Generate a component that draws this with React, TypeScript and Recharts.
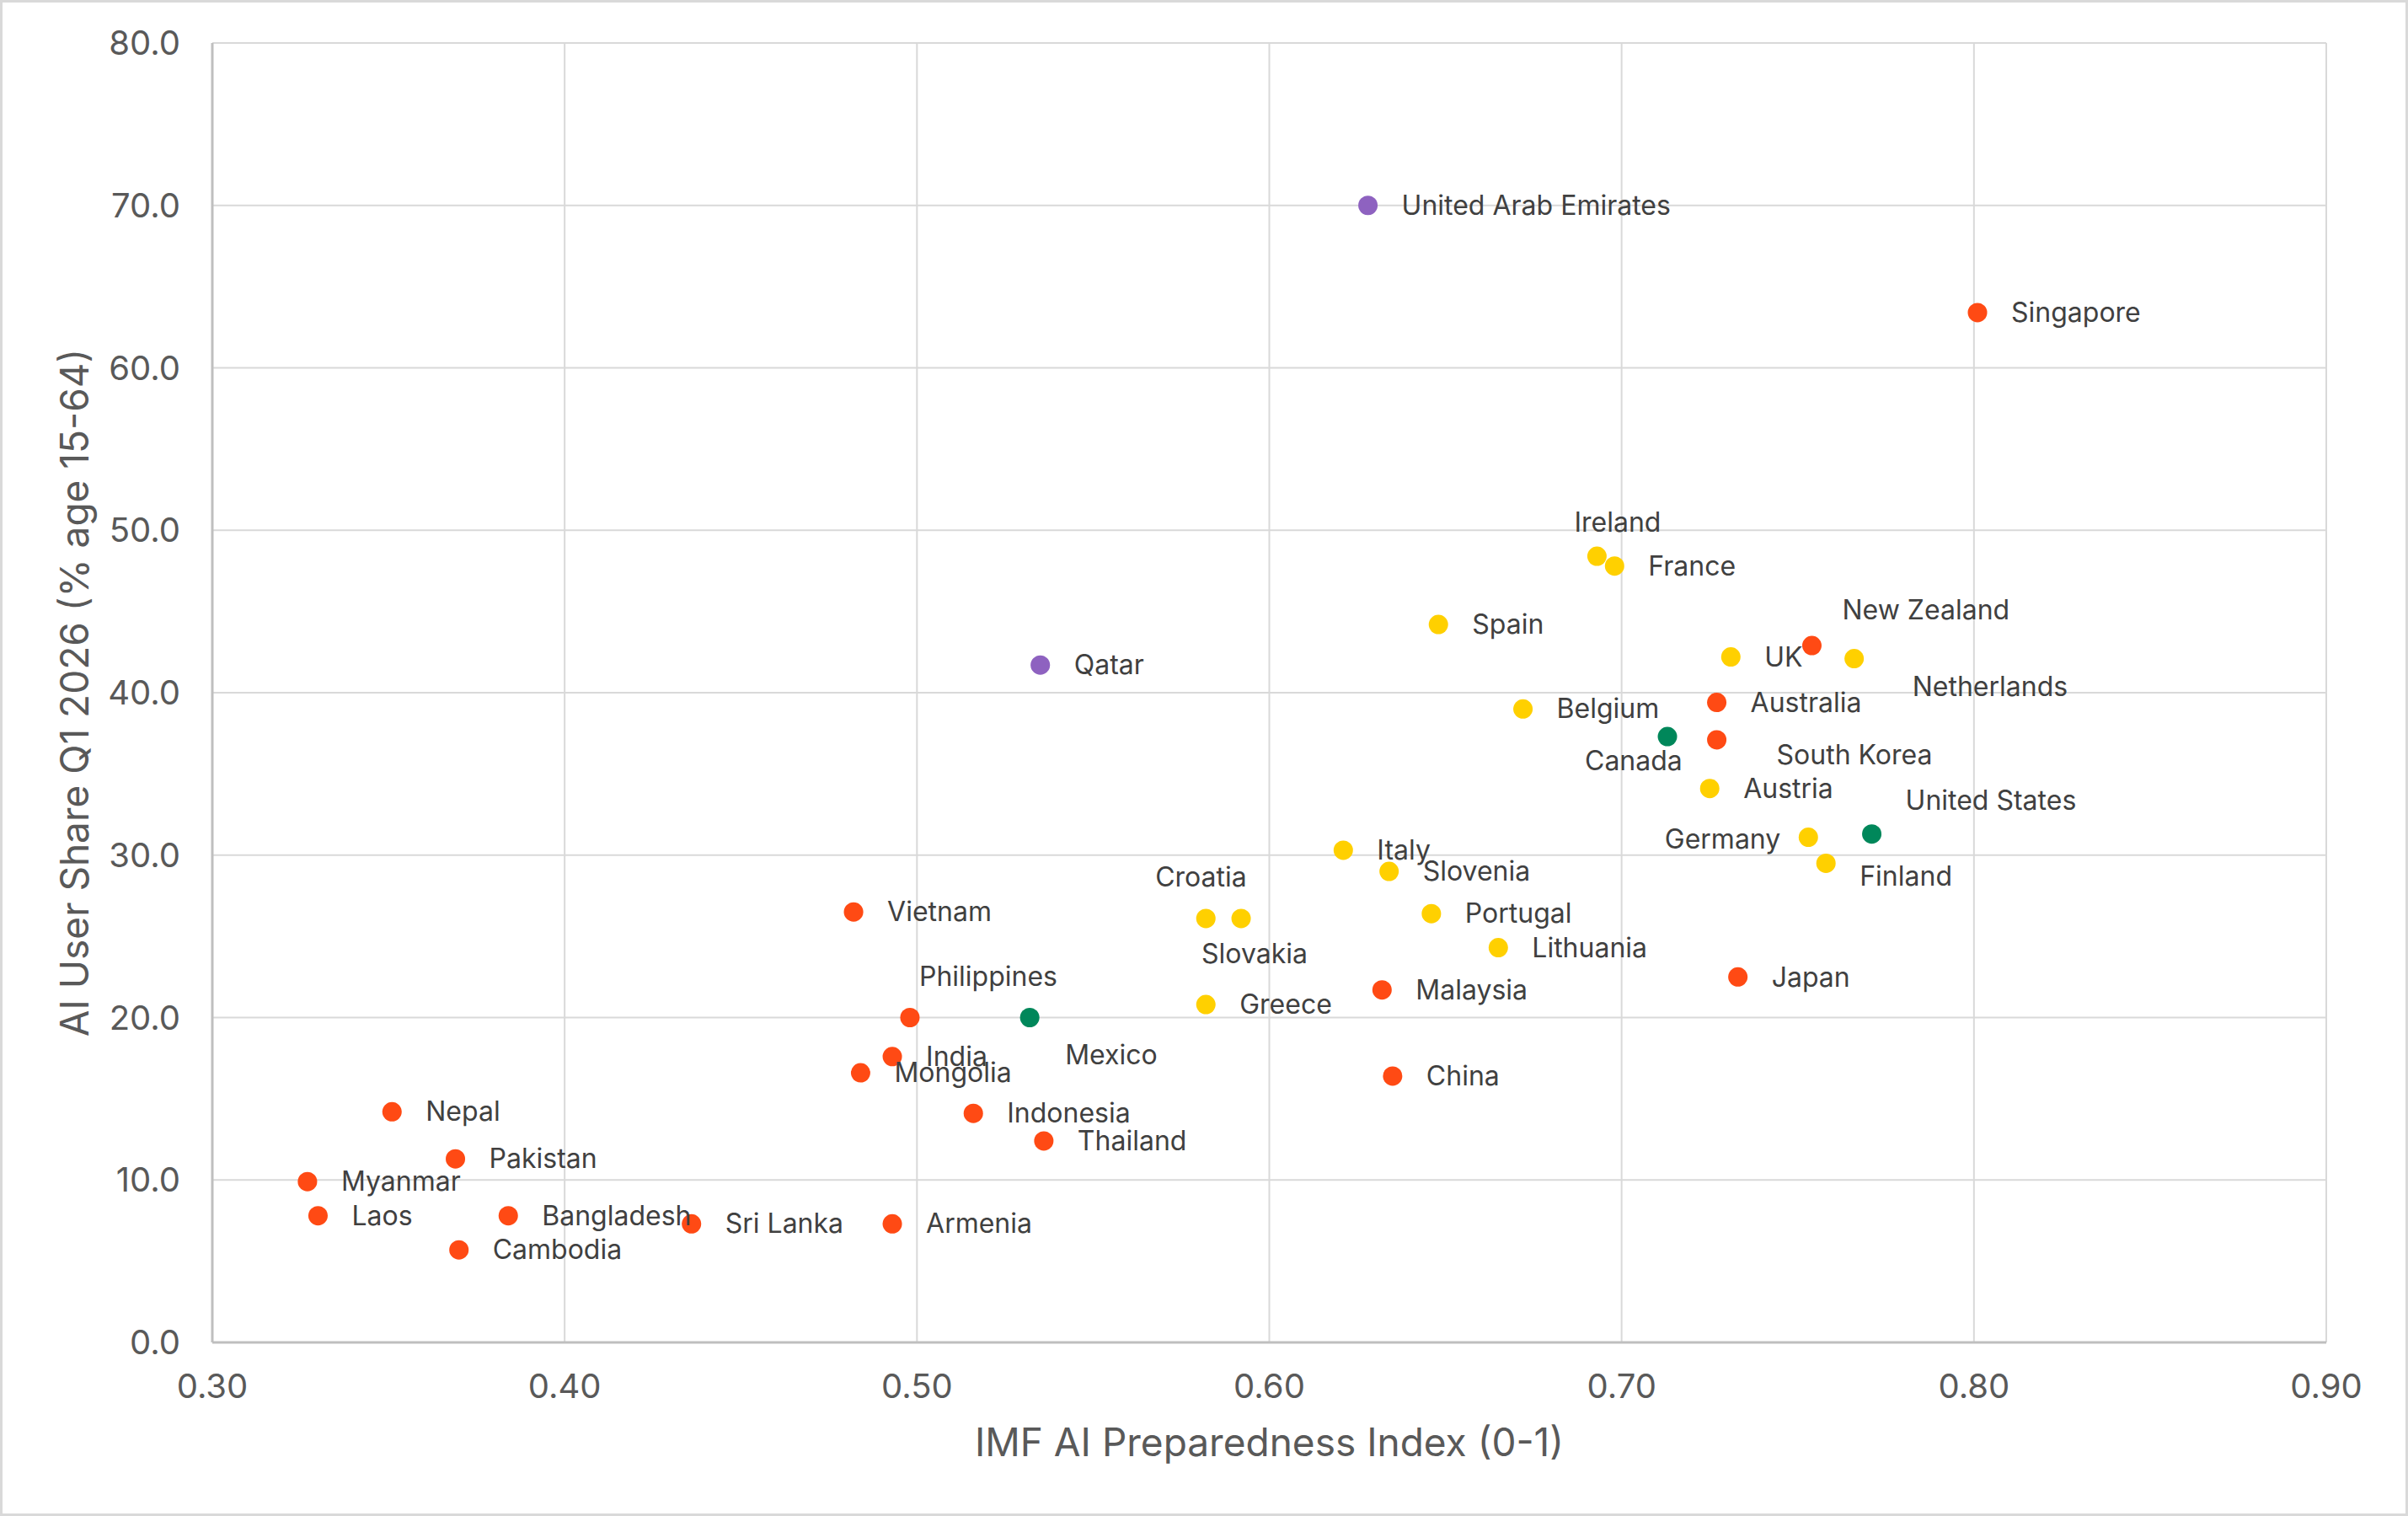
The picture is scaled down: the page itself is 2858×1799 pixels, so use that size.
import React from 'react';
import {
  ScatterChart,
  Scatter,
  XAxis,
  YAxis,
  CartesianGrid
} from 'recharts';

// values
const COUNTRIES = [
  'United Arab Emirates', 'Qatar',
  'Singapore', 'New Zealand', 'Australia', 'South Korea', 'Japan', 'Malaysia', 'China',
  'Vietnam', 'Philippines', 'India', 'Mongolia', 'Indonesia', 'Thailand', 'Armenia',
  'Sri Lanka', 'Bangladesh', 'Cambodia', 'Laos', 'Myanmar', 'Pakistan', 'Nepal',
  'Canada', 'United States', 'Mexico',
  'Ireland', 'France', 'Spain', 'UK', 'Netherlands', 'Belgium', 'Austria', 'Germany',
  'Finland', 'Italy', 'Slovenia', 'Portugal', 'Lithuania', 'Croatia', 'Slovakia', 'Greece'
];

const PREPAREDNESS = [
  0.628, 0.535,
  0.801, 0.754, 0.727, 0.727, 0.733, 0.632, 0.635,
  0.482, 0.498, 0.493, 0.484, 0.516, 0.536, 0.493,
  0.436, 0.384, 0.370, 0.330, 0.327, 0.369, 0.351,
  0.713, 0.771, 0.532,
  0.693, 0.698, 0.648, 0.731, 0.766, 0.672, 0.725, 0.753,
  0.758, 0.621, 0.634, 0.646, 0.665, 0.582, 0.592, 0.582
];

const USER_SHARE = [
  70.0, 41.7,
  63.4, 42.9, 39.4, 37.1, 22.5, 21.7, 16.4,
  26.5, 20.0, 17.6, 16.6, 14.1, 12.4, 7.3,
  7.3, 7.8, 5.7, 7.8, 9.9, 11.3, 14.2,
  37.3, 31.3, 20.0,
  48.4, 47.8, 44.2, 42.2, 42.1, 39.0, 34.1, 31.1,
  29.5, 30.3, 29.0, 26.4, 24.3, 26.1, 26.1, 20.8
];

const REGION = [
  'Gulf', 'Gulf',
  'Asia', 'Asia', 'Asia', 'Asia', 'Asia', 'Asia', 'Asia',
  'Asia', 'Asia', 'Asia', 'Asia', 'Asia', 'Asia', 'Asia',
  'Asia', 'Asia', 'Asia', 'Asia', 'Asia', 'Asia', 'Asia',
  'Americas', 'Americas', 'Americas',
  'Europe', 'Europe', 'Europe', 'Europe', 'Europe', 'Europe', 'Europe', 'Europe',
  'Europe', 'Europe', 'Europe', 'Europe', 'Europe', 'Europe', 'Europe', 'Europe'
];

const X_TICKS = [0.3, 0.4, 0.5, 0.6, 0.7, 0.8, 0.9];
const Y_TICKS = [0, 10, 20, 30, 40, 50, 60, 70, 80];

const REGION_COLORS: Record<string, string> = {
  Gulf: '#8E62C0',
  Asia: '#FF4A14',
  Americas: '#00875A',
  Europe: '#FFD000'
};

// label placement tweaks (px from dot centre); default is to the right
const LABEL_OFFSETS: Record<string, { dx: number; dy: number; anchor?: string }> = {
  'Ireland': { dx: -27, dy: -40 },
  'New Zealand': { dx: 36, dy: -42 },
  'Netherlands': { dx: 69, dy: 33 },
  'Canada': { dx: -98, dy: 29 },
  'South Korea': { dx: 71, dy: 18 },
  'United States': { dx: 40, dy: -40 },
  'Germany': { dx: -33, dy: 2, anchor: 'end' },
  'Finland': { dx: 40, dy: 15 },
  'Croatia': { dx: -60, dy: -49 },
  'Slovakia': { dx: -47, dy: 42 },
  'Philippines': { dx: 11, dy: -49 },
  'Mexico': { dx: 42, dy: 44 }
};

const data = COUNTRIES.map((name, i) => ({
  name,
  x: PREPAREDNESS[i],
  y: USER_SHARE[i],
  region: REGION[i]
}));

const regions = ['Gulf', 'Asia', 'Americas', 'Europe'];

const FONT = 'Inter, "Noto Sans", sans-serif';

const PointWithLabel = (props: any) => {
  const { cx, cy, payload, fill } = props;
  const off = LABEL_OFFSETS[payload.name] || { dx: 40, dy: 0 };
  return (
    <g>
      <circle cx={cx} cy={cy} r={11.5} fill={fill} />
      <text
        x={cx + off.dx}
        y={cy + off.dy}
        dy="0.35em"
        textAnchor={off.anchor || 'start'}
        fontFamily={FONT}
        fontSize={32}
        fill="#404040"
      >
        {payload.name}
      </text>
    </g>
  );
};

const App: React.FC = () => {
  return (
    <div
      style={{
        width: 2858,
        height: 1799,
        boxSizing: 'border-box',
        border: '3px solid #D9D9D9',
        background: '#fff'
      }}
    >
      <style>{'body{margin:0}'}</style>
      <ScatterChart
        width={2852}
        height={1793}
        margin={{ top: 48, right: 94, left: 0, bottom: 0 }}
      >
        <CartesianGrid stroke="#D9D9D9" strokeWidth={2} />
        <XAxis
          type="number"
          dataKey="x"
          domain={[0.3, 0.9]}
          ticks={X_TICKS}
          tickFormatter={(v: number) => v.toFixed(2)}
          height={203}
          tickSize={0}
          tickMargin={38}
          axisLine={{ stroke: '#BFBFBF', strokeWidth: 3 }}
          tick={{ fill: '#595959', fontSize: 40, fontFamily: FONT }}
          label={{
            value: 'IMF AI Preparedness Index (0-1)',
            position: 'insideBottom',
            offset: 68,
            fill: '#595959',
            fontSize: 46,
            fontFamily: FONT
          }}
        />
        <YAxis
          type="number"
          dataKey="y"
          domain={[0, 80]}
          ticks={Y_TICKS}
          tickFormatter={(v: number) => v.toFixed(1)}
          width={249}
          tickSize={0}
          tickMargin={38}
          axisLine={{ stroke: '#BFBFBF', strokeWidth: 3 }}
          tick={{ fill: '#595959', fontSize: 40, fontFamily: FONT }}
          label={{
            value: 'AI User Share Q1 2026 (% age 15-64)',
            angle: -90,
            position: 'insideLeft',
            offset: 86,
            fill: '#595959',
            fontSize: 46,
            fontFamily: FONT,
            style: { textAnchor: 'middle' }
          }}
        />
        {regions.map((r) => (
          <Scatter
            key={r}
            name={r}
            data={data.filter((d) => d.region === r)}
            fill={REGION_COLORS[r]}
            shape={PointWithLabel}
            isAnimationActive={false}
          />
        ))}
      </ScatterChart>
    </div>
  );
};

export default App;
